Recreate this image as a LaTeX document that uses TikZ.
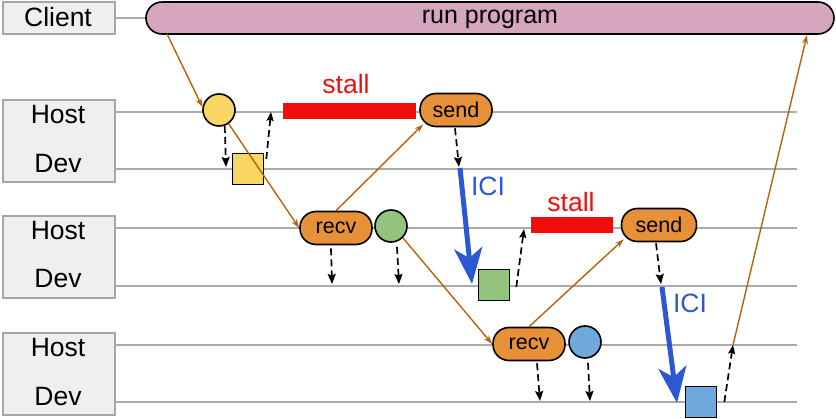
\documentclass[tikz,border=0pt]{standalone}
\usepackage{fontspec}
\setmainfont{Liberation Sans}
\usetikzlibrary{arrows.meta,calc}
\definecolor{lblfill}{HTML}{EFEFEF}
\definecolor{lbldraw}{HTML}{A6A6A6}
\definecolor{lanec}{HTML}{ABABAB}
\definecolor{pinkc}{HTML}{D5A6BD}
\definecolor{orng}{HTML}{E69138}
\definecolor{flowc}{HTML}{B4640A}
\definecolor{yel}{HTML}{F8D664}
\definecolor{grn}{HTML}{93C47D}
\definecolor{blu}{HTML}{6FA8DC}
\definecolor{stallred}{HTML}{F20D0D}
\definecolor{icib}{HTML}{2C58D4}
\begin{document}
\begin{tikzpicture}[x=1pt,y=-1pt,
  lbl/.style={draw=lbldraw, line width=1.6pt, fill=lblfill, minimum width=112pt, inner sep=0pt},
  lbltext/.style={font=\fontsize{26.5}{26.5}\selectfont, inner sep=0pt},
  lane/.style={draw=lanec, line width=1.5pt},
  pill/.style={draw=black, line width=1.6pt, rounded corners=16pt, fill=orng, minimum width=72pt, minimum height=33pt, inner sep=0pt, font=\fontsize{21.5}{21.5}\selectfont},
  dot/.style={circle, draw=black, line width=1.6pt, minimum size=32pt, inner sep=0pt},
  sq/.style={draw=black, line width=1.6pt, minimum size=31pt, inner sep=0pt},
  flow/.style={draw=flowc, line width=1.4pt, -{Stealth[length=9pt,width=6pt]}},
  dn/.style={draw=black, dash pattern=on 7pt off 4pt, line width=1.7pt, -{Stealth[length=10pt,width=8pt,inset=1.5pt]}},
  upar/.style={draw=black, dash pattern=on 7pt off 4pt, line width=1.7pt, -{Stealth[open,length=9pt,width=7pt,inset=1.5pt,fill=white]}},
  ici/.style={draw=icib, line width=5pt, -{Stealth[length=36pt,width=28pt,inset=10pt]}},
  stallbar/.style={fill=stallred, draw=none, inner sep=0pt},
  stalltxt/.style={text=stallred, font=\fontsize{26.5}{26.5}\selectfont, inner sep=0pt},
  icitxt/.style={text=icib, font=\fontsize{26.5}{26.5}\selectfont, inner sep=0pt}
]
\useasboundingbox (0,0) rectangle (836,419);

% label boxes
\node[lbl, minimum height=32pt] (client) at (59,18) {};
\node[lbltext] (clientt) at (58,17) {Client};
\node[lbl, minimum height=82pt] (box1) at (59,141) {};
\node[lbl, minimum height=82pt] (box2) at (59,257) {};
\node[lbl, minimum height=82pt] (box3) at (59,374) {};
\node[lbltext] (h1) at (58,115) {Host};
\node[lbltext] (d1) at (58,164) {Dev};
\node[lbltext] (h2) at (58,231) {Host};
\node[lbltext] (d2) at (58,279) {Dev};
\node[lbltext] (h3) at (58,348) {Host};
\node[lbltext] (d3) at (58,397) {Dev};

% lanes
\coordinate (ce) at (150,18);
\coordinate (h1e) at (797,112);
\coordinate (d1e) at (797,169);
\coordinate (h2e) at (797,228);
\coordinate (d2e) at (797,286);
\coordinate (h3e) at (797,345);
\coordinate (d3e) at (797,402);
\draw[lane] (client.east) -- (ce);
\draw[lane] (h1e -| box1.east) -- (h1e);
\draw[lane] (d1e -| box1.east) -- (d1e);
\draw[lane] (h2e -| box2.east) -- (h2e);
\draw[lane] (d2e -| box2.east) -- (d2e);
\draw[lane] (h3e -| box3.east) -- (h3e);
\draw[lane] (d3e -| box3.east) -- (d3e);

% run program
\node[draw=black, line width=1.6pt, fill=pinkc, rounded corners=16pt, minimum width=688pt, minimum height=32pt, inner sep=0pt] (run) at (490,18) {};
\node[font=\fontsize{25}{25}\selectfont, inner sep=0pt] (runt) at (490,19.5) {run program};

% stall bars
\node[stallbar, minimum width=133pt, minimum height=16pt] (stall1) at (349.5,111.5) {};
\node[stalltxt] (stall1t) at (346,84) {stall};
\node[stallbar, minimum width=82pt, minimum height=16pt] (stall2) at (572,225.5) {};
\node[stalltxt] (stall2t) at (571,202) {stall};

% ops
\node[dot, fill=yel] (yc) at (219,110) {};
\node[sq, fill=yel] (ysq) at (248,169) {};
\node[pill] (send1) at (456,110) {send};
\node[pill] (recv1) at (336,228) {recv};
\node[dot, fill=grn] (gc) at (391,226) {};
\node[sq, fill=grn] (gsq) at (494,285) {};
\node[pill, minimum width=75pt] (send2) at (659,225) {send};
\node[pill] (recv2) at (529,344) {recv};
\node[dot, fill=blu] (bc) at (585,342) {};
\node[sq, fill=blu] (bsq) at (701,402) {};

% free ends
\coordinate (rp1) at (167,34);
\coordinate (rp2) at (807,35);
\coordinate (yd) at (226,167);
\coordinate (yu) at (271,112);
\coordinate (s1d) at (459,167);
\coordinate (r1d) at (332,284);
\coordinate (gd) at (399,284);
\coordinate (gu) at (524,229);
\coordinate (ici1) at (472,284);
\coordinate (s2d) at (661,284);
\coordinate (r2d) at (540,401);
\coordinate (bd) at (590,401);
\coordinate (bu) at (733,345);
\coordinate (ici2) at (677,403);

% dashed host/device arrows
\draw[dn] (yc.-70) -- (yd);
\draw[upar] ($(ysq.east)+(2,-10)$) -- (yu);
\draw[dn] ($(send1.south)+(-1,1)$) -- (s1d);
\draw[dn] ($(recv1.south)+(-5,3)$) -- (r1d);
\draw[dn] ($(gc.south)+(6,4)$) -- (gd);
\draw[upar] ($(gsq.east)+(6,2)$) -- (gu);
\draw[dn] ($(send2.south)+(-3,1)$) -- (s2d);
\draw[dn] ($(recv2.south)+(8,2)$) -- (r2d);
\draw[dn] ($(bc.south)+(3,4)$) -- (bd);
\draw[upar] ($(bsq.east)+(7,0)$) -- (bu);

% ICI transfers
\draw[ici] ($(s1d)+(1,1)$) -- (ici1);
\node[icitxt] (ici1t) at (488,186) {ICI};
\draw[ici] ($(s2d)+(1,3)$) -- (ici2);
\node[icitxt] (ici2t) at (690,303) {ICI};

% control flow
\draw[flow] (rp1) -- (yc.170);
\draw[flow] (yc.-55) -- (recv1.west);
\draw[flow] (recv1.north) -- ($(send1.south west)+(4,-3)$);
\draw[flow] (gc.-45) -- (recv2.west);
\draw[flow] (recv2.north) -- ($(send2.south west)+(3,-3)$);
\draw[flow] (bu) -- (rp2);
\end{tikzpicture}
\end{document}
